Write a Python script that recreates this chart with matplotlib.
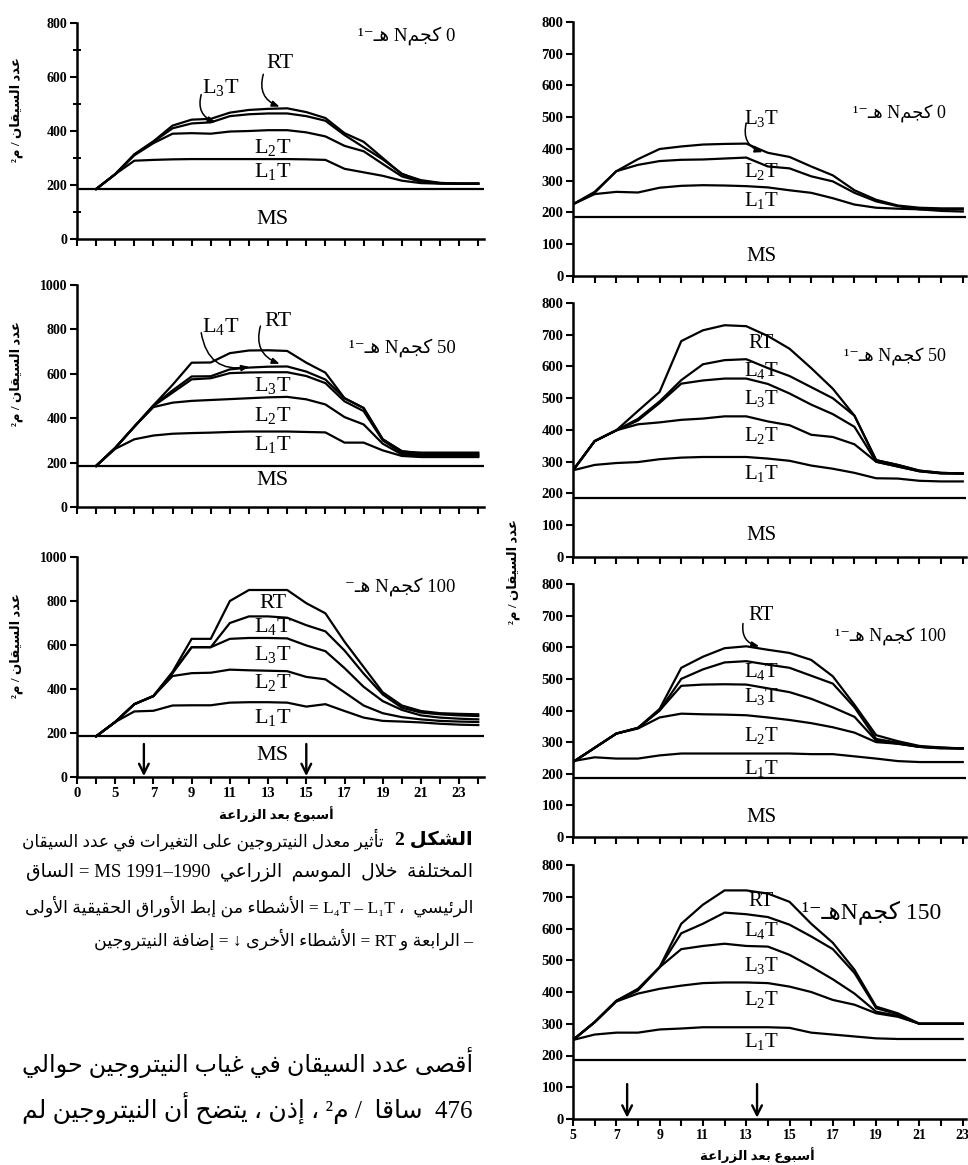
import matplotlib
matplotlib.use('Agg')
import matplotlib.pyplot as plt

plt.rcParams['mathtext.fontset'] = 'custom'
plt.rcParams['mathtext.rm'] = 'Liberation Serif'
plt.rcParams['mathtext.it'] = 'Liberation Serif:italic'
plt.rcParams['mathtext.bf'] = 'Liberation Serif:bold'
plt.rcParams['font.family'] = ['Liberation Serif', 'DejaVu Sans']

# ---------------------------------------------------------------- data
# Left column: weeks after sowing (the first x tick, week 3, is labelled "0")
left_weeks = [4, 5, 6, 7, 8, 9, 10, 11, 12, 13, 14, 15, 16, 17, 18, 19, 20, 21, 22, 23, 24]
left_xtick_labels = ['0', '5', '7', '9', '11', '13', '15', '17', '19', '21', '23']

l0_L1T = [185, 240, 290, 293, 295, 296, 296, 296, 296, 296, 296, 295, 293, 260, 247, 234, 216, 207, 205, 205, 205]
l0_L2T = [185, 240, 310, 355, 390, 392, 390, 398, 400, 403, 403, 395, 380, 345, 325, 278, 232, 212, 206, 205, 205]
l0_L3T = [185, 240, 312, 360, 410, 428, 432, 455, 462, 465, 465, 455, 438, 385, 340, 295, 242, 215, 207, 205, 205]
l0_RT = [185, 240, 314, 362, 420, 442, 445, 468, 478, 482, 484, 470, 448, 392, 360, 300, 240, 218, 208, 205, 205]

l50_L1T = [185, 262, 305, 322, 330, 333, 335, 338, 340, 340, 340, 338, 336, 290, 290, 255, 230, 225, 225, 225, 225]
l50_L2T = [185, 266, 362, 450, 470, 478, 482, 486, 490, 494, 496, 485, 462, 405, 372, 285, 237, 230, 230, 230, 230]
l50_L3T = [185, 266, 362, 455, 515, 575, 580, 603, 606, 607, 607, 590, 558, 476, 432, 300, 244, 235, 235, 235, 235]
l50_L4T = [185, 266, 362, 457, 525, 588, 589, 620, 628, 632, 633, 610, 574, 490, 446, 305, 252, 240, 240, 240, 240]
l50_RT = [185, 266, 362, 458, 550, 650, 651, 693, 705, 706, 703, 650, 605, 490, 446, 305, 250, 245, 245, 245, 245]

l100_L1T = [185, 250, 298, 301, 325, 326, 326, 338, 340, 340, 338, 320, 331, 300, 270, 255, 252, 248, 242, 238, 236]
l100_L2T = [185, 250, 331, 368, 459, 472, 474, 488, 485, 483, 481, 455, 444, 385, 325, 290, 272, 262, 255, 252, 250]
l100_L3T = [185, 250, 331, 368, 472, 590, 590, 628, 632, 632, 630, 598, 572, 495, 410, 345, 305, 280, 270, 265, 262]
l100_L4T = [185, 250, 331, 368, 474, 590, 590, 700, 730, 730, 724, 690, 662, 575, 470, 375, 315, 293, 285, 280, 277]
l100_RT = [185, 250, 331, 368, 478, 628, 628, 800, 850, 850, 850, 790, 744, 615, 500, 385, 325, 300, 290, 287, 285]

# Right column
right_weeks = [5, 6, 7, 8, 9, 10, 11, 12, 13, 14, 15, 16, 17, 18, 19, 20, 21, 22, 23]
right_xtick_labels = ['5', '7', '9', '11', '13', '15', '17', '19', '21', '23']

r0_L1T = [226, 258, 265, 263, 278, 284, 286, 285, 283, 279, 270, 262, 245, 225, 215, 212, 210, 210, 210]
r0_L2T = [226, 262, 330, 350, 362, 366, 367, 370, 373, 345, 339, 314, 298, 262, 235, 220, 210, 205, 203]
r0_L3T = [226, 265, 330, 368, 400, 408, 414, 416, 417, 388, 375, 345, 317, 270, 240, 222, 215, 213, 213]

r50_L1T = [273, 290, 296, 299, 308, 313, 315, 315, 315, 310, 303, 288, 278, 265, 248, 247, 240, 238, 238]
r50_L2T = [273, 365, 399, 418, 424, 432, 436, 443, 443, 427, 415, 385, 378, 355, 300, 285, 270, 263, 263]
r50_L3T = [273, 365, 399, 430, 485, 546, 556, 562, 562, 545, 515, 480, 450, 410, 300, 285, 270, 264, 263]
r50_L4T = [273, 365, 399, 435, 490, 557, 607, 620, 623, 595, 570, 535, 500, 445, 305, 290, 272, 265, 263]
r50_RT = [273, 365, 399, 460, 520, 680, 714, 730, 727, 696, 656, 595, 530, 445, 305, 290, 272, 265, 263]

r100_L1T = [240, 252, 248, 248, 258, 264, 264, 264, 264, 264, 264, 262, 262, 255, 248, 240, 237, 237, 237]
r100_L2T = [237, 282, 327, 343, 378, 390, 388, 387, 385, 378, 370, 360, 347, 330, 300, 295, 285, 280, 280]
r100_L3T = [237, 282, 327, 345, 400, 478, 482, 483, 482, 470, 458, 437, 410, 380, 305, 295, 285, 282, 280]
r100_L4T = [237, 282, 327, 345, 400, 500, 530, 552, 556, 545, 535, 510, 485, 410, 310, 298, 285, 282, 280]
r100_RT = [237, 282, 327, 345, 405, 535, 570, 597, 603, 592, 582, 560, 508, 418, 322, 303, 288, 283, 280]

r150_L1T = [249, 266, 272, 272, 282, 285, 289, 289, 289, 289, 287, 272, 266, 260, 254, 252, 252, 252, 252]
r150_L2T = [249, 305, 370, 395, 410, 420, 428, 430, 430, 428, 417, 400, 375, 360, 333, 322, 300, 300, 300]
r150_L3T = [249, 305, 372, 405, 478, 535, 545, 552, 545, 543, 517, 480, 440, 395, 338, 325, 300, 300, 300]
r150_L4T = [249, 305, 372, 408, 478, 585, 615, 650, 645, 636, 612, 575, 535, 460, 349, 330, 300, 300, 300]
r150_RT = [249, 305, 372, 410, 478, 615, 675, 720, 720, 710, 684, 615, 555, 470, 354, 333, 300, 300, 300]

main_stem = 185  # MS, plants per m2
left_n_weeks = [6.5, 15]     # nitrogen application (left column)
right_n_weeks = [7.5, 13.5]  # nitrogen application (right column)

# ---------------------------------------------------------------- arabic shaping / bidi
AR_FORMS = {
    '\u0621': (0xFE80, 1), '\u0622': (0xFE81, 2), '\u0623': (0xFE83, 2), '\u0624': (0xFE85, 2),
    '\u0625': (0xFE87, 2), '\u0626': (0xFE89, 4), '\u0627': (0xFE8D, 2), '\u0628': (0xFE8F, 4),
    '\u0629': (0xFE93, 2), '\u062A': (0xFE95, 4), '\u062B': (0xFE99, 4), '\u062C': (0xFE9D, 4),
    '\u062D': (0xFEA1, 4), '\u062E': (0xFEA5, 4), '\u062F': (0xFEA9, 2), '\u0630': (0xFEAB, 2),
    '\u0631': (0xFEAD, 2), '\u0632': (0xFEAF, 2), '\u0633': (0xFEB1, 4), '\u0634': (0xFEB5, 4),
    '\u0635': (0xFEB9, 4), '\u0636': (0xFEBD, 4), '\u0637': (0xFEC1, 4), '\u0638': (0xFEC5, 4),
    '\u0639': (0xFEC9, 4), '\u063A': (0xFECD, 4), '\u0641': (0xFED1, 4), '\u0642': (0xFED5, 4),
    '\u0643': (0xFED9, 4), '\u0644': (0xFEDD, 4), '\u0645': (0xFEE1, 4), '\u0646': (0xFEE5, 4),
    '\u0647': (0xFEE9, 4), '\u0648': (0xFEED, 2), '\u0649': (0xFEEF, 2), '\u064A': (0xFEF1, 4),
}
TATWEEL = '\u0640'
RLM = '\u200f'
LAM_ALEF = {'\u0622': 0xFEF5, '\u0623': 0xFEF7, '\u0625': 0xFEF9, '\u0627': 0xFEFB}


def _joins_next(c):
    return c == TATWEEL or (c in AR_FORMS and AR_FORMS[c][1] == 4)


def _joins_prev(c):
    return c == TATWEEL or (c in AR_FORMS and AR_FORMS[c][1] >= 2)


def shape(s):
    res = []
    i, n = 0, len(s)
    while i < n:
        c = s[i]
        prev = s[i - 1] if i > 0 else None
        if c == '\u0644' and i + 1 < n and s[i + 1] in LAM_ALEF:
            cp = prev is not None and _joins_next(prev)
            res.append(chr(LAM_ALEF[s[i + 1]] + (1 if cp else 0)))
            i += 2
            continue
        if c in AR_FORMS:
            base, nf = AR_FORMS[c]
            nxt = s[i + 1] if i + 1 < n else None
            cp = prev is not None and _joins_next(prev) and nf >= 2
            cn = nxt is not None and _joins_prev(nxt) and nf == 4
            off = 3 if (cp and cn) else 2 if cn else 1 if cp else 0
            res.append(chr(base + off))
        else:
            res.append(c)
        i += 1
    return ''.join(res)


def _cls(c):
    if c == RLM or '\u0600' <= c <= '\u06FF' or '\uFE70' <= c <= '\uFEFF':
        return 'R'
    if c.isdigit():
        return 'EN'
    if c.isalpha():
        return 'L'
    return 'N'


def vis(s):
    """Logical-order Arabic text -> visual (left-to-right) shaped string."""
    t = shape(s)
    types = [_cls(c) for c in t]
    last = 'R'
    for i, ty in enumerate(types):
        if ty in ('L', 'R'):
            last = ty
        elif ty == 'EN' and last == 'L':
            types[i] = 'L'
    strong = ['R' if ty in ('R', 'EN') else ty for ty in types]
    n = len(types)
    i = 0
    while i < n:
        if types[i] == 'N':
            j = i
            while j < n and types[j] == 'N':
                j += 1
            before = strong[i - 1] if i > 0 else 'R'
            after = strong[j] if j < n else 'R'
            d = before if before == after else 'R'
            for k in range(i, j):
                types[k] = d
            i = j
        else:
            i += 1
    levels = [1 if ty == 'R' else 2 for ty in types]
    chars = list(t)
    for lev in (2, 1):
        i = 0
        while i < n:
            if levels[i] >= lev:
                j = i
                while j < n and levels[j] >= lev:
                    j += 1
                chars[i:j] = chars[i:j][::-1]
                levels[i:j] = levels[i:j][::-1]
                i = j
            else:
                i += 1
    return ''.join(chars).replace(RLM, '')


# ---------------------------------------------------------------- figure
W, H = 968, 1165
fig = plt.figure(figsize=(W / 100, H / 100), dpi=100)
fig.patch.set_facecolor('white')
FAM = ['Liberation Serif', 'DejaVu Sans']
LW = 1.6


def add_ax(x0, x1, ytop, ybot):
    return fig.add_axes([x0 / W, 1 - ybot / H, (x1 - x0) / W, (ybot - ytop) / H])


def style(ax, xlim, xticks, xlabels, ymax, ystep, ysize, xsize, minor=None):
    ax.set_xlim(*xlim)
    ax.set_ylim(0, ymax)
    ax.patch.set_alpha(0)
    for s in ('top', 'right'):
        ax.spines[s].set_visible(False)
    for s in ('left', 'bottom'):
        ax.spines[s].set_linewidth(1.8)
    ax.set_xticks(xticks)
    ax.set_xticklabels(xlabels)
    ax.set_yticks(list(range(0, ymax + 1, ystep)))
    ax.tick_params(axis='both', which='major', direction='out', length=5, width=1.5, pad=2)
    for lab in ax.get_yticklabels():
        lab.set_fontfamily('Liberation Serif')
        lab.set_fontweight('bold')
        lab.set_fontsize(ysize)
    for lab in ax.get_xticklabels():
        lab.set_fontfamily('Liberation Serif')
        lab.set_fontweight('bold')
        lab.set_fontsize(xsize)
    if minor is not None:
        ax.set_yticks(minor, minor=True)
        ax.tick_params(axis='y', which='minor', direction='inout', length=6, width=1.4)
    ax.axhline(main_stem, color='k', lw=LW, zorder=3)


def series_label(name):
    if name in ('RT', 'MS'):
        return name
    return r'$\mathrm{%s_{%s}T}$' % (name[0], name[1])


def put_labels(ax, x, items, size):
    for name, y in items:
        ax.text(x, y, series_label(name), ha='center', va='center', fontsize=size,
                fontfamily='Liberation Serif', color='k', zorder=5)


def curl(ax, start, tip, rad):
    ax.annotate('', xy=tip, xytext=start,
                arrowprops=dict(arrowstyle='-|>,head_length=0.45,head_width=0.18',
                                connectionstyle='arc3,rad=%s' % rad, lw=1.1, color='k',
                                shrinkA=0, shrinkB=0), zorder=6)


def n_arrow(ax, x, top):
    ax.annotate('', xy=(x, 4), xytext=(x, top),
                arrowprops=dict(arrowstyle='->,head_length=0.7,head_width=0.35', lw=1.7,
                                color='k', shrinkA=0, shrinkB=0), zorder=6)


def title(ax, x, y, txt, size):
    ax.text(x, y, vis(txt), ha='right', va='center', fontsize=size, family=FAM, color='k')


AR_YLABEL = 'عدد السيقان / م²'
AR_XLABEL = 'أسبوع بعد الزراعة'

# ---------- left column
LX0, LX1 = 77, 484
left_xlim = (3, 24.3)
left_ticks = list(range(3, 25))
left_lab_map = dict(zip([3] + list(range(5, 24, 2)), left_xtick_labels))

left_specs = [
    (23, 239, 800, 'L0'),
    (285, 507, 1000, 'L50'),
    (557, 777, 1000, 'L100'),
]
left_series = {
    'L0': [l0_L1T, l0_L2T, l0_L3T, l0_RT],
    'L50': [l50_L1T, l50_L2T, l50_L3T, l50_L4T, l50_RT],
    'L100': [l100_L1T, l100_L2T, l100_L3T, l100_L4T, l100_RT],
}
left_axes = {}
for ytop, ybot, ymax, key in left_specs:
    ax = add_ax(LX0, LX1, ytop, ybot)
    bottom = key == 'L100'
    labels = [left_lab_map.get(t, '') if bottom else '' for t in left_ticks]
    style(ax, left_xlim, left_ticks, labels, ymax, 200, 10, 10.5,
          minor=[100, 300, 500, 700] if ymax == 800 else None)
    for ys in left_series[key]:
        ax.plot(left_weeks, ys, color='k', lw=LW, solid_joinstyle='round', zorder=4)
    ax.text(-0.15, 0.6, vis(AR_YLABEL), transform=ax.transAxes, rotation=90,
            ha='center', va='center', fontsize=9.5, fontweight='bold', family=FAM)
    left_axes[key] = ax

ax = left_axes['L0']
put_labels(ax, 13.25, [('L2T', 340), ('L1T', 250), ('MS', 72)], 16)
ax.text(13.6, 650, 'RT', ha='center', va='center', fontsize=16, fontfamily='Liberation Serif')
ax.text(10.5, 560, series_label('L3T'), ha='center', va='center', fontsize=16)
curl(ax, (12.75, 610), (13.6, 490), 0.45)
curl(ax, (9.5, 535), (10.25, 432), 0.45)
title(ax, 22.8, 755, '0 كجمN هـ⁻¹', 13.5)

ax = left_axes['L50']
put_labels(ax, 13.25, [('L3T', 548), ('L2T', 414), ('L1T', 281), ('MS', 118)], 16)
ax.text(10.5, 815, series_label('L4T'), ha='center', va='center', fontsize=16)
ax.text(13.5, 836, 'RT', ha='center', va='center', fontsize=16, fontfamily='Liberation Serif')
curl(ax, (9.5, 785), (12.0, 632), 0.5)
curl(ax, (12.6, 815), (13.6, 645), 0.45)
title(ax, 22.8, 720, '50 كجمN هـ⁻¹', 13.5)

ax = left_axes['L100']
put_labels(ax, 13.25, [('RT', 790), ('L4T', 684), ('L3T', 556), ('L2T', 429), ('L1T', 271), ('MS', 98)], 16)
for xw in left_n_weeks:
    n_arrow(ax, xw, 150)
title(ax, 22.8, 865, '100 كجمN هـ⁻', 13.5)
fig.text(276 / W, 1 - 814 / H, vis(AR_XLABEL), ha='center', va='center', fontsize=9.5,
         fontweight='bold', family=FAM)

# ---------- right column
RX0, RX1 = 573, 966
right_xlim = (5, 23.15)
right_ticks = list(range(5, 24))
right_lab_map = dict(zip(range(5, 24, 2), right_xtick_labels))
right_specs = [
    (22, 276, 'R0'),
    (303, 557, 'R50'),
    (584, 837, 'R100'),
    (865, 1119, 'R150'),
]
right_series = {
    'R0': [r0_L1T, r0_L2T, r0_L3T],
    'R50': [r50_L1T, r50_L2T, r50_L3T, r50_L4T, r50_RT],
    'R100': [r100_L1T, r100_L2T, r100_L3T, r100_L4T, r100_RT],
    'R150': [r150_L1T, r150_L2T, r150_L3T, r150_L4T, r150_RT],
}
right_axes = {}
for ytop, ybot, key in right_specs:
    ax = add_ax(RX0, RX1, ytop, ybot)
    bottom = key == 'R150'
    labels = [right_lab_map.get(t, '') if bottom else '' for t in right_ticks]
    style(ax, right_xlim, right_ticks, labels, 800, 100, 10.5, 10)
    for ys in right_series[key]:
        ax.plot(right_weeks, ys, color='k', lw=LW, solid_joinstyle='round', zorder=4)
    right_axes[key] = ax

LXR = 13.7
ax = right_axes['R0']
put_labels(ax, LXR, [('L3T', 496), ('L2T', 328), ('L1T', 239), ('MS', 61)], 15)
curl(ax, (13.0, 482), (13.75, 390), 0.45)
title(ax, 22.2, 511, '0 كجمN هـ⁻¹', 13)

ax = right_axes['R50']
put_labels(ax, LXR, [('RT', 672), ('L4T', 588), ('L3T', 499), ('L2T', 383), ('L1T', 262), ('MS', 68)], 15)
title(ax, 22.2, 630, '50 كجمN هـ⁻¹', 13)

ax = right_axes['R100']
put_labels(ax, LXR, [('RT', 701), ('L4T', 522), ('L3T', 443), ('L2T', 322), ('L1T', 216), ('MS', 63)], 15)
curl(ax, (12.85, 675), (13.6, 603), 0.45)
title(ax, 22.2, 633, '100 كجمN هـ⁻¹', 13)

ax = right_axes['R150']
put_labels(ax, LXR, [('RT', 684), ('L4T', 595), ('L3T', 485), ('L2T', 375), ('L1T', 244)], 15)
for xw in right_n_weeks:
    n_arrow(ax, xw, 110)
title(ax, 22.0, 648, '150 كجمNهـ⁻¹', 17)
fig.text(757 / W, 1 - 1155 / H, vis(AR_XLABEL), ha='center', va='center', fontsize=9.5,
         fontweight='bold', family=FAM)
fig.text(513 / W, 1 - 572 / H, vis(AR_YLABEL), rotation=90, ha='center', va='center',
         fontsize=9.5, fontweight='bold', family=FAM)

# ---------- caption and body text
renderer = fig.canvas.get_renderer()
XR, XL = 473, 22


def justified(line, y, xr, xl, fs, weight='normal'):
    """Right-aligned RTL line, widened by extra word gaps to span xl..xr."""
    t = fig.text(xr / W, 1 - y / H, vis(line), ha='right', va='center', fontsize=fs,
                 fontweight=weight, family=FAM)
    target = xr - xl
    w = t.get_window_extent(renderer).width
    if w > target:
        t.set_fontsize(fs * target / w)
        return t
    words = line.split(' ')
    gaps = [1] * (len(words) - 1)
    k = 0
    for _ in range(300):
        if w >= target - 3 or not gaps:
            break
        trial = gaps[:]
        trial[k % len(gaps)] += 1
        s = words[0]
        for g, wd in zip(trial, words[1:]):
            s += ' ' * g + wd
        t.set_text(vis(s))
        w2 = t.get_window_extent(renderer).width
        if w2 > target:
            s = words[0]
            for g, wd in zip(gaps, words[1:]):
                s += ' ' * g + wd
            t.set_text(vis(s))
            break
        gaps, w = trial, w2
        k += 1
    return t


cap_bold = 'الشكل 2'
cap_lines = [
    'تأثير معدل النيتروجين على التغيرات في عدد السيقان',
    'المختلفة خلال الموسم الزراعي 1990–1991 MS = الساق',
    'الرئيسي ، L₁T' + RLM + ' – ' + RLM + 'L₄T = الأشطاء من إبط الأوراق الحقيقية الأولى',
    '– الرابعة و RT = الأشطاء الأخرى ↓ = إضافة النيتروجين',
]
cap_y = [840, 873, 906, 939]
CAP_FS = 12.5

tb = fig.text(XR / W, 1 - cap_y[0] / H, vis(cap_bold), ha='right', va='center',
              fontsize=CAP_FS + 1.5, fontweight='bold', family=FAM)
bb = tb.get_window_extent(renderer)
justified(cap_lines[0], cap_y[0], bb.x0 - 12, XL, CAP_FS)
justified(cap_lines[1], cap_y[1], XR, XL, CAP_FS + 1)
justified(cap_lines[2], cap_y[2], XR, XL, CAP_FS)
fig.text(XR / W, 1 - cap_y[3] / H, vis(cap_lines[3]), ha='right', va='center',
         fontsize=CAP_FS, family=FAM)

body_lines = [
    'أقصى عدد السيقان في غياب النيتروجين حوالي',
    '476 ساقا / م² ، إذن ، يتضح أن النيتروجين لم',
]
body_y = [1062, 1108]
for line, y in zip(body_lines, body_y):
    justified(line, y, XR, XL, 18)

fig.savefig('out.png', dpi=100, facecolor='white')
